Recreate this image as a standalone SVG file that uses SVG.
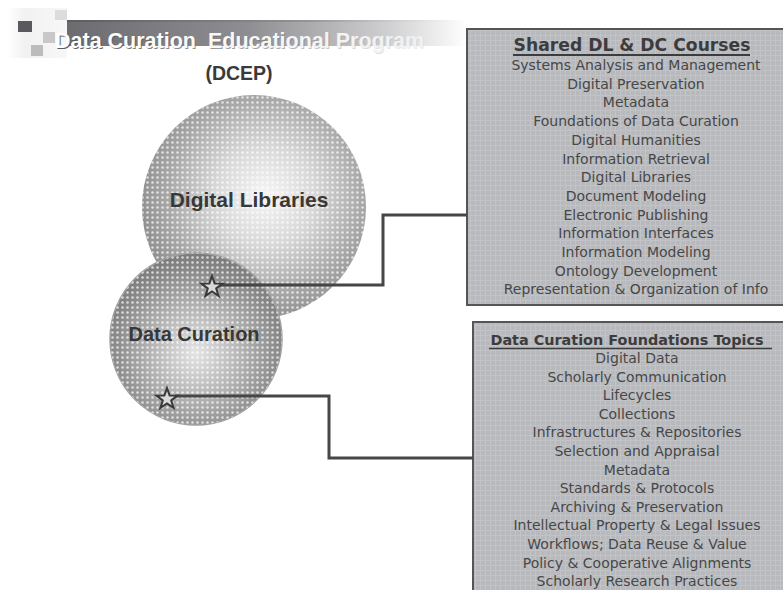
<svg xmlns="http://www.w3.org/2000/svg" width="783" height="590" viewBox="0 0 783 590">
  <defs>
    <style>
      .title { font-family: "Liberation Sans", Arial, sans-serif; font-weight: bold; font-size: 21.5px; }
      .sub { font-family: "Liberation Sans", Arial, sans-serif; font-weight: bold; font-size: 19.5px; fill: #3a3a3a; }
      .circ { font-family: "Liberation Sans", Arial, sans-serif; font-weight: bold; fill: #383838; text-anchor: middle; }
      .head { font-family: "DejaVu Sans", Verdana, sans-serif; font-weight: bold; fill: #3c3c3c; text-anchor: middle; }
      .item { font-family: "DejaVu Sans", Verdana, sans-serif; font-size: 14px; fill: #474747; text-anchor: middle; }
      .box { fill: url(#grid); stroke: #555; stroke-width: 2; }
      .conn { fill: none; stroke: #464646; stroke-width: 3; }
      .star { fill: #d9d9d9; stroke: #3a3a3a; stroke-width: 2; stroke-linejoin: miter; }
    </style>
    <linearGradient id="bar" x1="0" y1="0" x2="1" y2="0">
      <stop offset="0" stop-color="#6c6c70"/>
      <stop offset="0.45" stop-color="#8e8e92"/>
      <stop offset="0.8" stop-color="#cfcfd1"/>
      <stop offset="1" stop-color="#ffffff"/>
    </linearGradient>
    <linearGradient id="barTop" x1="0" y1="0" x2="1" y2="0">
      <stop offset="0" stop-color="#56565a"/>
      <stop offset="0.6" stop-color="#8a8a8e"/>
      <stop offset="1" stop-color="#ffffff"/>
    </linearGradient>
    <linearGradient id="titleFill" x1="55" y1="0" x2="430" y2="0" gradientUnits="userSpaceOnUse">
      <stop offset="0" stop-color="#ffffff"/>
      <stop offset="0.7" stop-color="#f4f4f4"/>
      <stop offset="1" stop-color="#f0f0f0"/>
    </linearGradient>
    <linearGradient id="titleShadow" x1="55" y1="0" x2="430" y2="0" gradientUnits="userSpaceOnUse">
      <stop offset="0" stop-color="#4a4a4a" stop-opacity="0.9"/>
      <stop offset="0.6" stop-color="#777" stop-opacity="0.6"/>
      <stop offset="1" stop-color="#bbb" stop-opacity="0.2"/>
    </linearGradient>
    <linearGradient id="fadeBg" x1="0" y1="0" x2="1" y2="0">
      <stop offset="0" stop-color="#eeeeee" stop-opacity="0"/>
      <stop offset="0.3" stop-color="#eeeeee" stop-opacity="0.8"/>
      <stop offset="1" stop-color="#f2f2f2" stop-opacity="0.6"/>
    </linearGradient>
    <radialGradient id="dlGrad" cx="0.55" cy="0.45" r="0.55">
      <stop offset="0" stop-color="#f6f6f6"/>
      <stop offset="0.4" stop-color="#d8d8d8"/>
      <stop offset="0.8" stop-color="#a6a6a6"/>
      <stop offset="1" stop-color="#929292"/>
    </radialGradient>
    <radialGradient id="dcGrad" cx="0.5" cy="0.58" r="0.58">
      <stop offset="0" stop-color="#e4e4e4"/>
      <stop offset="0.45" stop-color="#b4b4b4"/>
      <stop offset="0.85" stop-color="#878787"/>
      <stop offset="1" stop-color="#7a7a7a"/>
    </radialGradient>
    <pattern id="dots" width="5" height="5" patternUnits="userSpaceOnUse">
      <circle cx="2.5" cy="2.5" r="1.3" fill="#ffffff" fill-opacity="0.7"/>
    </pattern>
    <pattern id="grid" width="5" height="5" patternUnits="userSpaceOnUse">
      <rect width="5" height="5" fill="#b7b9bd"/>
      <path d="M0 0.5H5M0.5 0V5" stroke="#c1c3c7" stroke-width="1"/>
    </pattern>
    <polygon id="starShape" points="0,-11 2.6,-3.6 10.5,-3.4 4.2,1.4 6.5,8.9 0,4.4 -6.5,8.9 -4.2,1.4 -10.5,-3.4 -2.6,-3.6"/>
  </defs>

  <rect width="783" height="590" fill="#ffffff"/>

  <g id="title">
    <rect x="7" y="8" width="60" height="50" fill="url(#fadeBg)"/>
    <rect x="67" y="20" width="400" height="26" fill="url(#bar)"/>
    <rect x="67" y="20" width="400" height="2" fill="url(#barTop)" opacity="0.7"/>
    <rect x="18" y="21" width="14" height="11" fill="#5a5a5e"/>
    <rect x="55" y="10" width="12" height="10" fill="#dcdcdc"/>
    <rect x="43" y="32" width="12" height="11" fill="#c8c8c8"/>
    <rect x="31" y="45" width="12" height="11" fill="#bcbcbc"/>
    <text class="title" x="56" y="49" fill="url(#titleShadow)" xml:space="preserve">Data Curation  Educational Program</text>
    <text class="title" x="55" y="48" fill="url(#titleFill)" xml:space="preserve">Data Curation  Educational Program</text>
    <text class="sub" x="239" y="80" text-anchor="middle">(DCEP)</text>
  </g>

  <g id="node-digital-libraries">
    <circle cx="254" cy="207" r="112" fill="url(#dlGrad)"/>
    <circle cx="254" cy="207" r="112" fill="url(#dots)"/>
    <text class="circ" x="249" y="207" font-size="21">Digital Libraries</text>
  </g>

  <g id="node-data-curation">
    <circle cx="196" cy="339" r="86" fill="url(#dcGrad)" stroke="#a0a0a0" stroke-width="1.5"/>
    <circle cx="196" cy="339" r="86" fill="url(#dots)"/>
    <text class="circ" x="194" y="341" font-size="20">Data Curation</text>
  </g>

  <g id="box-shared">
    <rect class="box" x="467" y="29" width="330" height="276"/>
    <text class="head" x="632" y="51" font-size="17.2">Shared DL &amp; DC Courses</text>
    <line x1="513" y1="55" x2="750" y2="55" stroke="#3c3c3c" stroke-width="2"/>
    <text class="item" x="636" y="70">Systems Analysis and Management</text>
    <text class="item" x="636" y="88.7">Digital Preservation</text>
    <text class="item" x="636" y="107.4">Metadata</text>
    <text class="item" x="636" y="126.1">Foundations of Data Curation</text>
    <text class="item" x="636" y="144.8">Digital Humanities</text>
    <text class="item" x="636" y="163.5">Information Retrieval</text>
    <text class="item" x="636" y="182.2">Digital Libraries</text>
    <text class="item" x="636" y="200.9">Document Modeling</text>
    <text class="item" x="636" y="219.6">Electronic Publishing</text>
    <text class="item" x="636" y="238.3">Information Interfaces</text>
    <text class="item" x="636" y="257">Information Modeling</text>
    <text class="item" x="636" y="275.7">Ontology Development</text>
    <text class="item" x="636" y="294.4">Representation &amp; Organization of Info</text>
  </g>

  <g id="box-foundations">
    <rect class="box" x="473" y="322" width="330" height="290"/>
    <text class="head" x="627" y="345" font-size="14.4">Data Curation Foundations Topics</text>
    <line x1="489" y1="348.5" x2="772" y2="348.5" stroke="#3c3c3c" stroke-width="1.6"/>
    <text class="item" x="637" y="363">Digital Data</text>
    <text class="item" x="637" y="381.6">Scholarly Communication</text>
    <text class="item" x="637" y="400.2">Lifecycles</text>
    <text class="item" x="637" y="418.8">Collections</text>
    <text class="item" x="637" y="437.4">Infrastructures &amp; Repositories</text>
    <text class="item" x="637" y="456">Selection and Appraisal</text>
    <text class="item" x="637" y="474.6">Metadata</text>
    <text class="item" x="637" y="493.2">Standards &amp; Protocols</text>
    <text class="item" x="637" y="511.8">Archiving &amp; Preservation</text>
    <text class="item" x="637" y="530.4">Intellectual Property &amp; Legal Issues</text>
    <text class="item" x="637" y="549">Workflows; Data Reuse &amp; Value</text>
    <text class="item" x="637" y="567.6">Policy &amp; Cooperative Alignments</text>
    <text class="item" x="637" y="586.2">Scholarly Research Practices</text>
  </g>

  <g id="connectors">
    <polyline class="conn" points="220,285 383,285 383,215 467,215"/>
    <polyline class="conn" points="175,396 329,396 329,458 473,458"/>
    <use href="#starShape" class="star" x="212" y="287"/>
    <use href="#starShape" class="star" x="167" y="399"/>
  </g>
</svg>
